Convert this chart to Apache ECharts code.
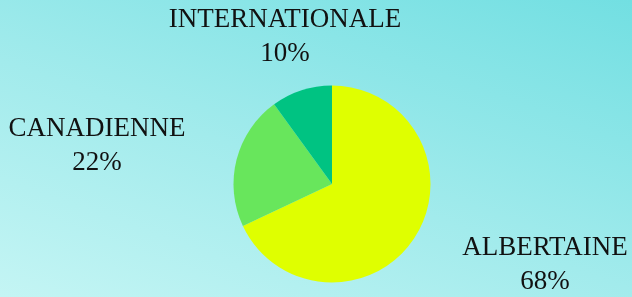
<!DOCTYPE html>
<html><head><meta charset="utf-8">
<script src="https://cdn.jsdelivr.net/npm/echarts@6/dist/echarts.min.js"></script>
<style>
html,body{margin:0;padding:0;width:632px;height:297px;overflow:hidden;}
body{background:linear-gradient(20deg,#c4f5f4 0%,#a2ebec 45%,#72dfe2 100%);}
#c{width:632px;height:297px;}
</style></head>
<body><div id="c"></div>
<script>
const categories = ['ALBERTAINE', 'CANADIENNE', 'INTERNATIONALE'];
const values = [68, 22, 10];
const colors = ['#dfff00', '#68e65c', '#00c382'];
const labelSpots = [[545, 265], [97, 146], [285, 37]];

const chart = echarts.init(document.getElementById('c'));
chart.setOption({
  backgroundColor: 'transparent',
  animation: false,
  series: [{
    type: 'pie',
    center: [332, 184],
    radius: 98.5,
    startAngle: 90,
    clockwise: true,
    avoidLabelOverlap: false,
    data: categories.map((n, i) => ({name: n, value: values[i], itemStyle: {color: colors[i]}})),
    label: {
      show: true,
      formatter: '{b}\n{c}%',
      color: '#111',
      fontFamily: 'Liberation Serif',
      fontSize: 27,
      lineHeight: 34,
      align: 'center',
      overflow: 'none',
      width: 300
    },
    labelLine: {show: false},
    labelLayout: function (p) {
      const s = labelSpots[p.dataIndex];
      return {x: s[0], y: s[1], align: 'center', verticalAlign: 'middle'};
    }
  }]
});
</script></body></html>
